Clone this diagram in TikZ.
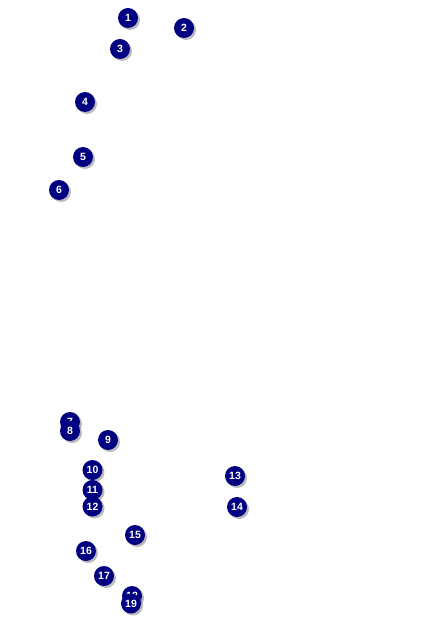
\documentclass[tikz,border=0pt]{standalone}
\usepackage{fontspec}
\setmainfont{Liberation Sans}
\definecolor{markernavy}{RGB}{0, 0, 128}
\usetikzlibrary{shadows}

\begin{document}
\begin{tikzpicture}[x=1pt, y=-1pt,
    marker/.style={circle, fill=markernavy, minimum size=20pt, inner sep=0pt,
      text=white, font=\bfseries\fontsize{10.5}{10.5}\selectfont,
      drop shadow={shadow xshift=2pt, shadow yshift=-2pt, fill=black!45, opacity=0.6}}]
  \useasboundingbox (0,0) rectangle (424,636);
  \node[marker] (m1) at (128,18) {1};
  \node[marker] (m2) at (184,28) {2};
  \node[marker] (m3) at (120,49) {3};
  \node[marker] (m4) at (85,102) {4};
  \node[marker] (m5) at (83,157) {5};
  \node[marker] (m6) at (59,190) {6};
  \node[marker] (m7) at (70,422) {7};
  \node[marker] (m8) at (70,431) {8};
  \node[marker] (m9) at (108,440) {9};
  \node[marker] (m10) at (92.5,470) {10};
  \node[marker] (m11) at (92.5,490) {11};
  \node[marker] (m12) at (92.5,506.5) {12};
  \node[marker] (m13) at (235,476) {13};
  \node[marker] (m14) at (237,507) {14};
  \node[marker] (m15) at (135,535) {15};
  \node[marker] (m16) at (86,551) {16};
  \node[marker] (m17) at (104,576) {17};
  \node[marker] (m18) at (132,596) {18};
  \node[marker] (m19) at (131,603.5) {19};
\end{tikzpicture}
\end{document}
